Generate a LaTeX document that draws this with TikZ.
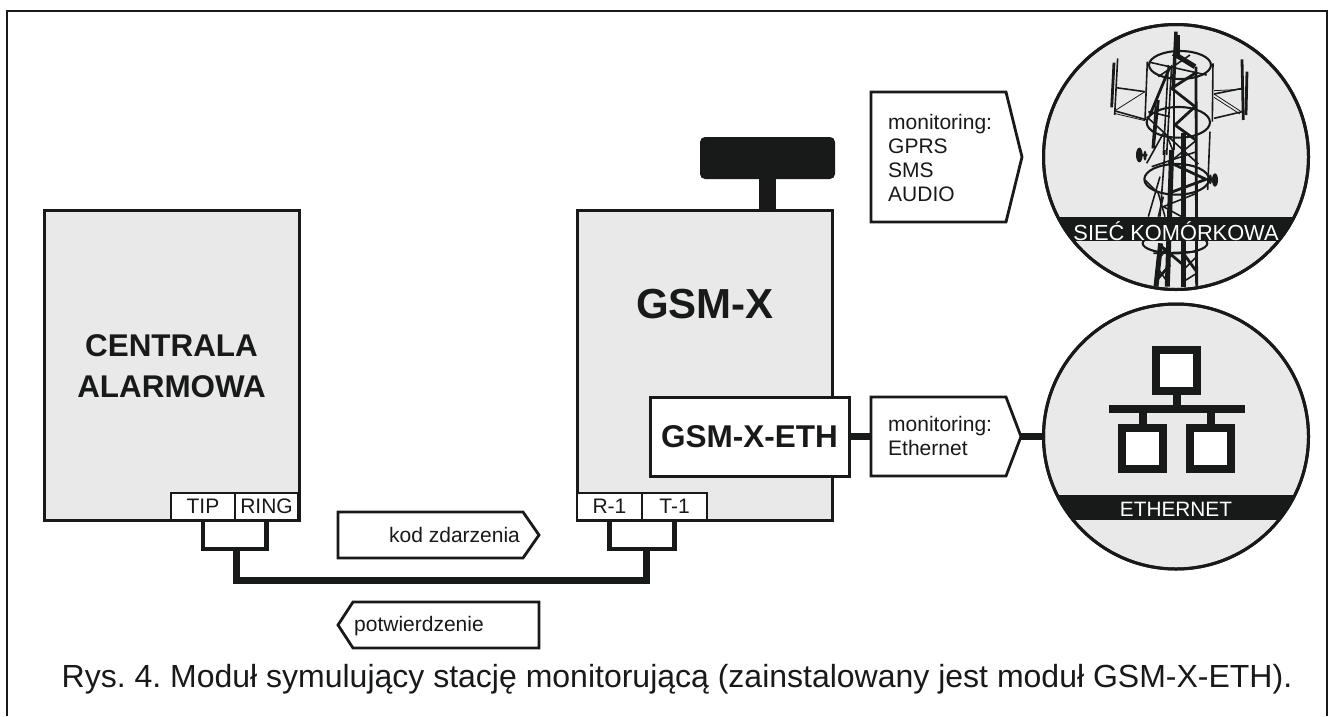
\documentclass[tikz,border=0pt]{standalone}
\usepackage{fontspec}
\setmainfont{Liberation Sans}
\definecolor{ink}{HTML}{181A19}
\definecolor{panel}{HTML}{E9E9E9}
\newcommand{\fs}[1]{\fontsize{#1}{24}\selectfont}
\tikzset{
  box/.style={draw=ink,line width=3pt,fill=panel,anchor=north west,inner sep=0pt,outer sep=0pt,minimum width=#1},
  port/.style={draw=ink,line width=1.2pt,fill=white,anchor=north west,inner sep=0pt,outer sep=0pt,minimum height=27pt,minimum width=#1,font=\fs{21},text=ink},
  pent/.style={draw=ink,line width=2.8pt,fill=white,line join=miter},
  lbl/.style={inner sep=0pt,text=ink,font=\fs{21},align=left},
  head/.style={inner sep=0pt,text=ink,font=\bfseries\fs{#1},align=center},
  wirethin/.style={draw=ink,line width=4.5pt,line join=miter},
  wirethick/.style={draw=ink,line width=7pt,line join=miter},
  disc/.style={circle,draw=ink,line width=3pt,fill=panel,minimum size=265pt,inner sep=0pt,outer sep=0pt},
  bandtxt/.style={inner sep=0pt,text=white},
  sq/.style={draw=ink,line width=8pt,fill=white,minimum size=41pt,inner sep=0pt,outer sep=0pt,anchor=north west},
  ta/.style={draw=ink,line width=0.8pt},
  tb/.style={draw=ink,line width=1.6pt},
  tc/.style={draw=ink,line width=2.8pt},
  te/.style={draw=ink,line width=2.1pt},
  td/.style={draw=ink,line width=5pt},
}
\begin{document}
\begin{tikzpicture}[x=1pt,y=-1pt]
\useasboundingbox (0,0) rectangle (1334,716);
\fill[white] (0,0) rectangle (1334,716);
% outer frame
\draw[ink,line width=1.8pt] (7,716) -- (7,11) -- (1327,11) -- (1327,716);

% main boxes
\node[box=255pt,minimum height=310pt] (central) at (44.5,210) {};
\node[box=255pt,minimum height=310pt] (gsm) at (577.5,210) {};
\node[head=31.4] (centraltxt) at (171.5,366) {CENTRALA\\[17pt]ALARMOWA};
\node[head=42] (gsmtxt) at (705,304) {GSM-X};

% antenna
\node[fill=ink,rounded corners=5pt,minimum width=135pt,minimum height=42pt,inner sep=0pt,outer sep=0pt,anchor=north west] (ant) at (700,137) {};
\draw[ink,line width=16.5pt] (767.5,179) -- (767.5,210);

% ports
\node[port=64pt] (tip) at (171,493) {TIP};
\node[port=63pt] (ring) at (235,493) {RING};
\node[port=65pt] (rone) at (577,493) {R-1};
\node[port=65pt] (tone) at (642,493) {T-1};

% wiring
\coordinate (bl) at (236,549);
\coordinate (br) at (646,549);
\draw[wirethin] (tip.south) -- (tip.south |- bl) -- (ring.south |- bl) -- (ring.south);
\draw[wirethin] (rone.south) -- (rone.south |- br) -- (tone.south |- br) -- (tone.south);
\draw[wirethick] (bl) -- (236,580) -- (646,580) -- (br);

% event arrows
\draw[pent] (338,512) -- (523,512) -- (539,535) -- (523,558) -- (338,558) -- cycle;
\node[lbl,anchor=base west] (kod) at (389,542) {kod zdarzenia};
\draw[pent] (539,602) -- (353,602) -- (338,625) -- (353,648) -- (539,648) -- cycle;
\node[lbl,anchor=base west] (pot) at (354,631) {potwierdzenie};

% tower disc
\node[disc] (cell) at (1176,157) {};
\begin{scope}
\clip (1176,157) circle (131pt);
\begin{scope}[shift={(1030pt,-20pt)},x=0.3333pt,y=-0.3333pt]
  % platforms
  \draw[te] (450,135) ellipse [x radius=93,y radius=42];
  \draw[te] (445,307) ellipse [x radius=95,y radius=46];
  \draw[te] (440,478) ellipse [x radius=97,y radius=46];
  \draw[te] (435,670) ellipse [x radius=97,y radius=30];
  % left antenna panel
  \draw[tb] (263,115) -- (254,285);
  \draw[tc] (252,128) -- (245,262);
  \draw[tb] (352,125) -- (345,300);
  \draw[tb] (258,203) -- (345,215);
  \draw[tb] (252,272) -- (345,298);
  \draw[ta] (258,270) -- (345,215) (252,280) -- (345,302);
  % right antenna panel
  \draw[tb] (549,130) -- (547,305);
  \draw[tc] (636,118) -- (640,300);
  \draw[tc] (651,155) -- (648,285);
  \draw[tb] (552,222) -- (637,205);
  \draw[tb] (552,295) -- (637,275);
  \draw[ta] (552,222) -- (637,277) (552,232) -- (630,282) (552,212) -- (637,208);
  % dishes
  \fill[ink] (328,405) ellipse [x radius=10,y radius=22];
  \fill[ink] (555,480) ellipse [x radius=9,y radius=20];
  \fill[ink] (345,407) ellipse [x radius=5,y radius=15];
  \fill[ink] (541,478) ellipse [x radius=5,y radius=15];
  \draw[tb] (328,405) -- (352,405) (530,478) -- (555,480);
  % mast
  \draw[ink,line width=3.5pt] (438,35) -- (430,205);
  \draw[tc] (445,45) -- (445,115);
  \draw[tc] (432,205) -- (432,390);
  \draw[td] (425,390) -- (412,800);
  \draw[ink,line width=5.5pt] (460,340) -- (460,800);
  \draw[tb] (415,135) -- (400,405);
  \draw[tb] (425,135) -- (410,405);
  \draw[tc] (498,140) -- (500,800);
  \draw[tb] (405,390) -- (390,590);
  \draw[td] (392,670) -- (378,800);
  \draw[tb] (540,335) -- (533,510);
  % lattice
  \draw[td] (430,100) -- (495,140);
  \draw[tb] (360,127) -- (530,165);
  \draw[tb] (480,105) -- (385,170);
  \draw[tc] (420,140) -- (360,285);
  \draw[tc] (385,240) -- (370,385);
  \draw[tb] (378,240) -- (367,385);
  \draw[tc] (495,160) -- (425,205) -- (495,260) -- (435,315) -- (500,362);
  \draw[tb] (350,290) -- (410,345) -- (430,395);
  \draw[tb] (355,275) -- (420,290);
  \draw[tb] (415,350) -- (505,432) (500,360) -- (415,430);
  \draw[tc] (425,430) -- (528,478) -- (415,520);
  \draw[tb] (365,440) -- (500,395);
  \draw[tb] (350,430) -- (400,340);
  \draw[tb] (345,480) -- (385,520) -- (405,590);
  \draw[tb] (390,470) -- (355,590);
  \draw[tb] (500,520) -- (400,560) -- (455,590);
  \draw[tb] (400,530) -- (385,590);
  % lattice below the band
  \draw[tc] (395,680) -- (460,735);
  \draw[tc] (385,715) -- (415,680);
  \draw[tc] (380,780) -- (420,735);
  \draw[tc] (460,700) -- (500,755);
  \draw[tb] (500,710) -- (460,750);
  \draw[tb] (460,785) -- (500,760);
  \draw[tb] (380,740) -- (415,790);
  \draw[tb] (370,700) -- (500,695);
\end{scope}
\end{scope}
\begin{scope}
\clip (1176,157) circle (133pt);
\fill[ink] (1040,217) rectangle (1312,241);
\end{scope}
\draw[ink,line width=3pt] (1176,157) circle (132.5pt);
\node[bandtxt,font=\fs{21.8}] (celllbl) at (1176,231) {SIEĆ KOMÓRKOWA};
\draw[pent] (871,92) -- (1006,92) -- (1022,157) -- (1006,222) -- (871,222) -- cycle;
\node[lbl,anchor=west] (moni) at (888,158) {monitoring:\\GPRS\\SMS\\AUDIO};

% ethernet disc
\node[disc] (net) at (1176,436.5) {};
\begin{scope}
\clip (1176,436.5) circle (133pt);
\fill[ink] (1040,495) rectangle (1312,520);
\end{scope}
\draw[ink,line width=3pt] (1176,436.5) circle (132.5pt);
\node[bandtxt,font=\fs{20.8}] (netlbl) at (1176,509) {ETHERNET};
\node[sq] (na) at (1156,350) {};
\node[sq] (nb) at (1122,428) {};
\node[sq] (nc) at (1190,428) {};
\coordinate (barl) at (1109,409);
\coordinate (barr) at (1245,409);
\draw[ink,line width=8pt] (barl) -- (barr);
\draw[ink,line width=8pt] (na.south) -- (na.south |- barl);
\draw[ink,line width=8pt] (nb.north) -- (nb.north |- barl);
\draw[ink,line width=8pt] (nc.north) -- (nc.north |- barl);

% ETH module and connectors
\node[draw=ink,line width=3pt,fill=white,anchor=north west,inner sep=0pt,outer sep=0pt,minimum width=199pt,minimum height=79pt,head=31.5] (eth) at (650,397) {GSM-X-ETH};
\coordinate (ar) at (871,436.5);
\coordinate (at) at (1021,436.5);
\draw[wirethick] (eth.east) -- (ar);
\draw[wirethick] (at) -- (net.west);
\draw[pent] (871,397) -- (1006,397) -- (1021,436.5) -- (1006,476) -- (871,476) -- cycle;
\node[lbl,anchor=west] (mone) at (888,436) {monitoring:\\Ethernet};

% caption
\node[inner sep=0pt,anchor=base,font=\fontsize{32}{34}\selectfont,text=ink] (cap) at (677,687) {\frenchspacing Rys. 4. Moduł symulujący stację monitorującą (zainstalowany jest moduł GSM-X-ETH).};
\end{tikzpicture}
\end{document}
